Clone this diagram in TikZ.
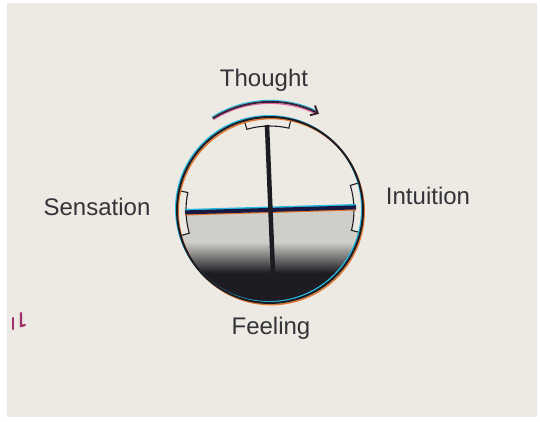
\documentclass[tikz,border=0pt]{standalone}
\usepackage{fontspec}
\setmainfont{Liberation Sans}
\usetikzlibrary{arrows.meta}
\definecolor{paper}{RGB}{237,234,228}
\definecolor{ink}{RGB}{28,28,34}
\definecolor{fcyan}{RGB}{40,185,225}
\definecolor{fmag}{RGB}{215,60,140}
\definecolor{forange}{RGB}{225,120,50}
\definecolor{lightfill}{RGB}{208,206,201}
\begin{document}
\begin{tikzpicture}[x=1pt,y=-1pt,
  lbl/.style={font=\fontsize{24}{28}\selectfont, text=ink!90, anchor=base, inner sep=0pt},
  bracket/.style={fill=paper, draw=ink, line width=1.1pt}]
\useasboundingbox (0,0) rectangle (540,421);
\fill[white] (0,0) rectangle (540,421);
\fill[paper] (7,3) rectangle (537,417);
\coordinate (c) at (270,210);
% lower shaded half
\begin{scope}
  \clip (270,210) circle (93);
  \fill[lightfill] (170,212.4) -- (370,207) -- (370,243) -- (170,243) -- cycle;
  \shade[top color=lightfill, bottom color=ink] (170,242) rectangle (370,273);
  \fill[ink] (170,272.5) rectangle (370,310);
\end{scope}
% brackets
\filldraw[bracket] ([shift={(254:93)}]c) arc[start angle=254,end angle=283,radius=93] -- ([shift={(283:84)}]c) arc[start angle=283,end angle=254,radius=84] -- cycle;
\filldraw[bracket] ([shift={(164:93)}]c) arc[start angle=164,end angle=192,radius=93] -- ([shift={(192:84)}]c) arc[start angle=192,end angle=164,radius=84] -- cycle;
\filldraw[bracket] ([shift={(-17:93)}]c) arc[start angle=-17,end angle=14,radius=93] -- ([shift={(14:84)}]c) arc[start angle=14,end angle=-17,radius=84] -- cycle;
% horizontal line
\draw[fcyan, line width=2pt] (185,210) -- (356,205);
\draw[forange, line width=1.4pt] (185,214.8) -- (356,209.8);
\draw[ink!85!blue, line width=4pt] (185,212.4) -- (356,207.4);
% vertical line
\draw[ink, line width=4.5pt] (267,125) -- (274,297);
% circle outline
\draw[fcyan, line width=1.5pt] (268.8,208.8) circle (93);
\draw[forange, line width=1.5pt] (271.2,211.6) circle (93);
\draw[ink, line width=2pt] (c) circle (93);
% rotation arrow
\draw[fcyan, line width=1.1pt] ([shift={(238:109.6)}]c) arc[start angle=238,end angle=296,radius=109.6];
\draw[fmag!80, line width=1.1pt] ([shift={(238:106.6)}]c) arc[start angle=238,end angle=296,radius=106.6];
\draw[ink!85!fmag, line width=1.9pt, -{Straight Barb[length=6pt,width=11pt]}] ([shift={(238:108)}]c) arc[start angle=238,end angle=297,radius=108];
% stray marks
\draw[fmag!70!ink, line width=2.2pt, line cap=round] (13,318) -- (13,329);
\draw[fmag!70!ink, line width=2.2pt, line cap=round] (21,313) -- (21,326) -- (25,325);
% labels
\node[lbl] (thought) at (264,86) {Thought};
\node[lbl] (sensation) at (97,215) {Sensation};
\node[lbl] (intuition) at (428,204) {Intuition};
\node[lbl] (feeling) at (271,334) {Feeling};
\end{tikzpicture}
\end{document}
